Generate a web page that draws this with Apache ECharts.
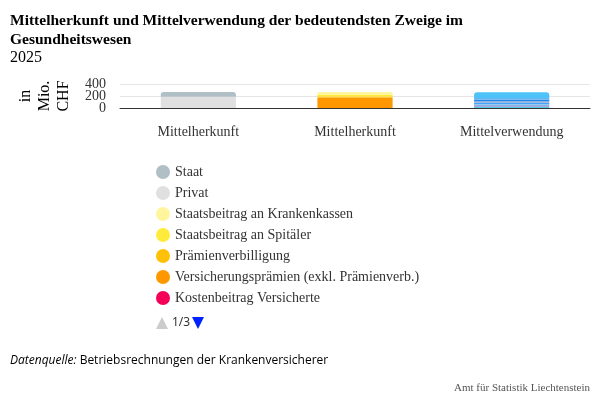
<!DOCTYPE html>
<html>
<head>
<meta charset="utf-8">
<script src="https://cdn.jsdelivr.net/npm/echarts@6/dist/echarts.min.js"></script>
<style>
  html, body { margin: 0; padding: 0; background: #fff; }
  #chart { width: 600px; height: 400px; }
</style>
</head>
<body>
<div id="chart"></div>
<script>
// data, legend order (top of stack first)
const categories = ['Mittelherkunft', 'Mittelherkunft', 'Mittelverwendung'];
const yTicks = [0, 200, 400];
const seriesNames = [
    'Staat',
    'Privat',
    'Staatsbeitrag an Krankenkassen',
    'Staatsbeitrag an Spitäler',
    'Prämienverbilligung',
    'Versicherungsprämien (exkl. Prämienverb.)',
    'Kostenbeitrag Versicherte',
    'Spitäler stationär',
    'Spitäler ambulant',
    'Ärzte',
    'Medikamente',
    'Pflegeheime',
    'Physiotherapie',
    'Spitex',
    'Labor',
    'Übrige Leistungen'
];
const seriesValues = [
    [77, null, null],
    [188, null, null],
    [null, 38, null],
    [null, 35, null],
    [null, 15, null],
    [null, 175, null],
    [null, 2, null],
    [null, null, 95],
    [null, null, 30],
    [null, null, 25],
    [null, null, 20],
    [null, null, 25],
    [null, null, 22],
    [null, null, 18],
    [null, null, 12],
    [null, null, 15]
];
const seriesColors = [
    '#b0bec5', '#e0e0e0', '#fff59d', '#ffeb3b', '#ffc107', '#ff9800', '#f50057',
    '#4fc3f7', '#64b5f6', '#1e88e5', '#9fa8da', '#42a5f5', '#90caf9', '#7986cb', '#b39ddb', '#4dd0e1'
];
// top segment of each column gets rounded corners
const topSeries = ['Staat', 'Staatsbeitrag an Krankenkassen', 'Spitäler stationär'];
const perPage = 7;

const serif = 'Liberation Serif';
let myChart = echarts.init(document.getElementById('chart'));
let page = 0;
const pageCount = Math.ceil(seriesNames.length / perPage);

let series = [];
// stack bottom-up: last legend entry goes first
for (let i = seriesNames.length - 1; i >= 0; i--) {
    series.push({
        name: seriesNames[i],
        type: 'bar',
        stack: 'one',
        barWidth: '48%',
        data: seriesValues[i],
        itemStyle: {
            color: seriesColors[i],
            borderWidth: 0,
            borderRadius: topSeries.indexOf(seriesNames[i]) >= 0 ? [3, 3, 0, 0] : 0
        }
    });
}

function pager() {
    let upActive = page > 0, downActive = page < pageCount - 1;
    return [
        {
            id: 'pgUp',
            type: 'polygon',
            shape: { points: [[162, 317], [168, 329], [156, 329]] },
            style: { fill: upActive ? '#0022ff' : '#cccccc' },
            onclick: function () { if (page > 0) { page--; update(); } }
        },
        {
            id: 'pgText',
            type: 'text',
            left: 172,
            top: 317,
            style: { text: (page + 1) + '/' + pageCount, fontFamily: 'Noto Sans', fontSize: 12, fill: '#333' }
        },
        {
            id: 'pgDown',
            type: 'polygon',
            shape: { points: [[192, 317], [204, 317], [198, 329]] },
            style: { fill: downActive ? '#0022ff' : '#cccccc' },
            onclick: function () { if (page < pageCount - 1) { page++; update(); } }
        }
    ];
}

function update() {
    myChart.setOption({
        legend: { data: seriesNames.slice(page * perPage, (page + 1) * perPage) },
        graphic: pager()
    });
}

// tick labels are split over two overlaid axes so none gets hidden as overlapping
function yAxisFor(showOuter) {
    return {
        type: 'value',
        position: 'left',
        min: yTicks[0],
        max: yTicks[yTicks.length - 1],
        interval: yTicks[1] - yTicks[0],
        axisLine: { show: false },
        axisTick: { show: false },
        splitLine: { show: showOuter, lineStyle: { color: '#e6e6e6' } },
        axisLabel: {
            margin: 14,
            fontFamily: serif, fontSize: 14, color: '#333',
            showMinLabel: true, showMaxLabel: true,
            formatter: function (v) {
                let outer = (v === yTicks[0] || v === yTicks[yTicks.length - 1]);
                return outer === showOuter ? String(v) : '';
            }
        }
    };
}

let yMain = yAxisFor(true);
yMain.name = 'in\nMio.\nCHF';
yMain.nameLocation = 'middle';
yMain.nameRotate = 90;
yMain.nameGap = 47;
yMain.nameTextStyle = { fontFamily: serif, fontSize: 16, color: '#000', lineHeight: 19 };

myChart.setOption({
    animation: false,
    title: [
        {
            text: 'Mittelherkunft und Mittelverwendung der bedeutendsten Zweige im\nGesundheitswesen',
            left: 10,
            top: 11,
            padding: 0,
            textStyle: { fontFamily: serif, fontSize: 15.5, fontWeight: 'bold', color: '#000', lineHeight: 19 }
        },
        {
            text: '2025',
            left: 10,
            top: 50,
            padding: 0,
            textStyle: { fontFamily: serif, fontSize: 16, fontWeight: 'normal', color: '#000' }
        }
    ],
    grid: { left: 120, right: 10, top: 84, bottom: 292, containLabel: false },
    xAxis: {
        type: 'category',
        data: categories,
        axisLine: { lineStyle: { color: '#333', width: 1 } },
        axisTick: { show: false },
        axisLabel: { fontFamily: serif, fontSize: 14, color: '#333', margin: 17 }
    },
    yAxis: [yMain, yAxisFor(false)],
    legend: {
        orient: 'vertical',
        left: 151,
        top: 160,
        data: seriesNames.slice(0, perPage),
        icon: 'circle',
        itemWidth: 14,
        itemHeight: 14,
        itemGap: 7,
        align: 'left',
        textStyle: { fontFamily: serif, fontSize: 14, color: '#333', lineHeight: 14 }
    },
    graphic: [
        {
            type: 'text',
            left: 10,
            top: 355,
            style: {
                text: '{i|Datenquelle:} Betriebsrechnungen der Krankenversicherer',
                rich: {
                    i: { fontStyle: 'italic', fontFamily: 'Open Sans', fontSize: 12, fill: '#000' }
                },
                fontFamily: 'Open Sans',
                fontSize: 12,
                fill: '#000'
            }
        },
        {
            type: 'text',
            right: 10,
            top: 383,
            style: {
                text: 'Amt für Statistik Liechtenstein',
                fontFamily: serif,
                fontSize: 11,
                fill: '#555'
            }
        }
    ].concat(pager()),
    series: series
});
</script>
</body>
</html>
